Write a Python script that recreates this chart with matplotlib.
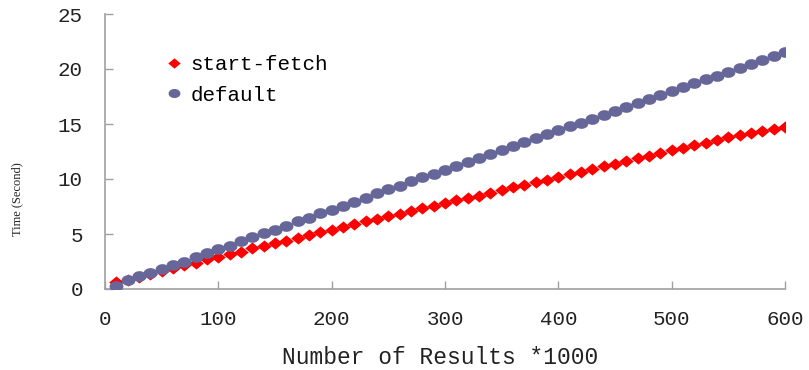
import matplotlib
matplotlib.use("Agg")
import matplotlib.pyplot as plt
from matplotlib.path import Path
import numpy as np

x_values = [10, 20, 30, 40, 50, 60, 70, 80, 90, 100,
            110, 120, 130, 140, 150, 160, 170, 180, 190, 200,
            210, 220, 230, 240, 250, 260, 270, 280, 290, 300,
            310, 320, 330, 340, 350, 360, 370, 380, 390, 400,
            410, 420, 430, 440, 450, 460, 470, 480, 490, 500,
            510, 520, 530, 540, 550, 560, 570, 580, 590, 600]

start_fetch = [0.65, 0.85, 1.10, 1.40, 1.65, 1.90, 2.15, 2.40, 2.70, 2.90,
               3.15, 3.40, 3.70, 3.90, 4.20, 4.40, 4.65, 4.95, 5.20, 5.40,
               5.65, 5.90, 6.15, 6.40, 6.60, 6.85, 7.10, 7.35, 7.55, 7.80,
               8.05, 8.30, 8.50, 8.75, 9.00, 9.25, 9.50, 9.70, 9.95, 10.20,
               10.45, 10.65, 10.90, 11.15, 11.40, 11.65, 11.90, 12.10, 12.35, 12.60,
               12.85, 13.10, 13.30, 13.55, 13.80, 14.00, 14.20, 14.40, 14.55, 14.75]

default = [0.30, 0.80, 1.15, 1.45, 1.80, 2.15, 2.50, 2.90, 3.30, 3.60,
           3.95, 4.35, 4.70, 5.05, 5.40, 5.75, 6.15, 6.50, 6.90, 7.20,
           7.55, 7.95, 8.30, 8.70, 9.05, 9.40, 9.80, 10.15, 10.50, 10.85,
           11.20, 11.55, 11.90, 12.30, 12.65, 13.00, 13.35, 13.70, 14.05, 14.45,
           14.80, 15.10, 15.50, 15.85, 16.20, 16.55, 16.90, 17.30, 17.65, 18.00,
           18.35, 18.70, 19.05, 19.40, 19.75, 20.10, 20.45, 20.80, 21.15, 21.55]

x_ticks = [0, 100, 200, 300, 400, 500, 600]
y_ticks = [0, 5, 10, 15, 20, 25]
series_labels = ["start-fetch", "default"]

# wide (stretched) marker shapes
t = np.linspace(0, 2 * np.pi, 41)
ellipse = Path(np.column_stack([0.65 * np.cos(t), 0.5 * np.sin(t)]), closed=True)
diamond = Path([(-0.6, 0), (0, 0.5), (0.6, 0), (0, -0.5), (-0.6, 0)], closed=True)

W, H = 809, 370
fig = plt.figure(figsize=(W / 100, H / 100), dpi=100)
ax = fig.add_axes([105 / W, 1 - 289 / H, 680 / W, 275 / H])

mono = "Liberation Mono"
ax.plot(x_values, start_fetch, linestyle="none", marker=diamond, markersize=10.5,
        color="#FF0000", markeredgewidth=0, label=series_labels[0], zorder=3)
ax.plot(x_values, default, linestyle="none", marker=ellipse, markersize=10,
        color="#666699", markeredgewidth=0, label=series_labels[1], zorder=4)

ax.set_xlim(0, 600)
ax.set_ylim(0, 25)
ax.set_xticks(x_ticks)
ax.set_yticks(y_ticks)
for s in ["top", "right"]:
    ax.spines[s].set_visible(False)
for s in ["left", "bottom"]:
    ax.spines[s].set_color("#A0A0A0")
    ax.spines[s].set_linewidth(1.2)
ax.tick_params(axis="both", direction="in", length=6, width=1, color="#A0A0A0",
               labelsize=15, labelcolor="#222222")
ax.tick_params(axis="x", pad=15)
ax.tick_params(axis="y", pad=16)
for lab in ax.get_xticklabels() + ax.get_yticklabels():
    lab.set_fontfamily(mono)

fig.text(440 / W, 1 - 358 / H, "Number of Results *1000", family=mono, fontsize=16.5,
         ha="center", va="center", color="#222222")
fig.text(17 / W, 1 - 199 / H, "Time (Second)", family="Liberation Serif", fontsize=9,
         rotation=90, ha="center", va="center", color="#222222")

leg = ax.legend(loc="center left", bbox_to_anchor=(155 / W, 1 - 80 / H),
                bbox_transform=fig.transFigure, frameon=False,
                prop={"family": mono, "size": 15}, handlelength=0.8,
                handletextpad=0.4, labelspacing=0.55, borderpad=0, markerscale=0.85)

fig.savefig("out.png", dpi=100)
